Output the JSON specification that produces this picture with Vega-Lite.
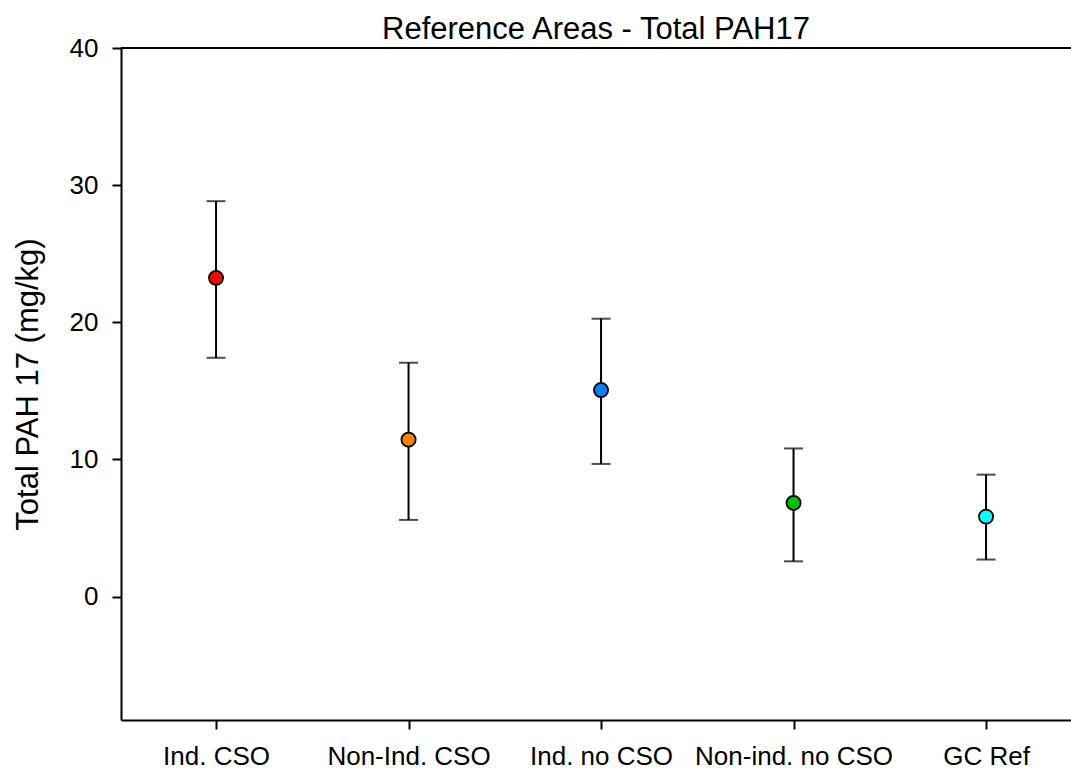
{
  "$schema": "https://vega.github.io/schema/vega-lite/v6.json",
  "width": 950,
  "height": 672,
  "autosize": {"type": "none"},
  "padding": {"left": 121, "top": 48, "right": 0, "bottom": 49},
  "background": "white",
  "title": {
    "text": "Reference Areas - Total PAH17",
    "fontSize": 31,
    "font": "Liberation Sans",
    "fontWeight": "normal",
    "color": "black",
    "anchor": "middle",
    "baseline": "alphabetic",
    "offset": -35
  },
  "data": {
    "values": [
      {"group": "Ind. CSO", "mean": 23.24, "lo": 17.41, "hi": 28.83},
      {"group": "Non-Ind. CSO", "mean": 11.44, "lo": 5.59, "hi": 17.05},
      {"group": "Ind. no CSO", "mean": 15.06, "lo": 9.67, "hi": 20.26},
      {"group": "Non-ind. no CSO", "mean": 6.83, "lo": 2.57, "hi": 10.8},
      {"group": "GC Ref", "mean": 5.83, "lo": 2.7, "hi": 8.89}
    ]
  },
  "layer": [
    {
      "mark": {"type": "rule", "color": "black", "strokeWidth": 2},
      "encoding": {"y": {"datum": 40, "type": "quantitative"}}
    },
    {
      "mark": {"type": "rule", "color": "black", "strokeWidth": 2},
      "encoding": {
        "x": {"field": "group", "type": "nominal", "sort": ["Ind. CSO", "Non-Ind. CSO", "Ind. no CSO", "Non-ind. no CSO", "GC Ref"]},
        "y": {"field": "lo", "type": "quantitative"},
        "y2": {"field": "hi"}
      }
    },
    {
      "mark": {"type": "tick", "color": "black", "thickness": 2, "size": 19, "orient": "horizontal"},
      "encoding": {
        "x": {"field": "group", "type": "nominal", "sort": ["Ind. CSO", "Non-Ind. CSO", "Ind. no CSO", "Non-ind. no CSO", "GC Ref"]},
        "y": {"field": "lo", "type": "quantitative"}
      }
    },
    {
      "mark": {"type": "tick", "color": "black", "thickness": 2, "size": 19, "orient": "horizontal"},
      "encoding": {
        "x": {"field": "group", "type": "nominal", "sort": ["Ind. CSO", "Non-Ind. CSO", "Ind. no CSO", "Non-ind. no CSO", "GC Ref"]},
        "y": {"field": "hi", "type": "quantitative"}
      }
    },
    {
      "mark": {"type": "point", "shape": "circle", "filled": true, "size": 200, "stroke": "black", "strokeWidth": 1.8, "opacity": 1},
      "encoding": {
        "x": {
          "field": "group",
          "type": "nominal",
          "sort": ["Ind. CSO", "Non-Ind. CSO", "Ind. no CSO", "Non-ind. no CSO", "GC Ref"],
          "scale": {"type": "point", "padding": 0.4675, "align": 0.528},
          "axis": {
            "title": null,
            "labelAngle": 0,
            "labelAlign": "center",
            "labelBaseline": "top",
            "labelFont": "Liberation Sans",
            "labelFontSize": 26,
            "labelColor": "black",
            "labelPadding": 14,
            "labelLimit": 400,
            "labelOverlap": false,
            "tickSize": 9,
            "tickWidth": 2,
            "tickColor": "black",
            "domainColor": "black",
            "domainWidth": 2,
            "grid": false
          }
        },
        "y": {
          "field": "mean",
          "type": "quantitative",
          "scale": {"domain": [-9, 40], "nice": false, "zero": false},
          "axis": {
            "title": "Total PAH 17 (mg/kg)",
            "values": [0, 10, 20, 30, 40],
            "labelFont": "Liberation Sans",
            "labelFontSize": 26,
            "labelColor": "black",
            "labelPadding": 14,
            "tickSize": 9,
            "tickWidth": 2,
            "tickColor": "black",
            "domainColor": "black",
            "domainWidth": 2,
            "grid": false,
            "titleFont": "Liberation Sans",
            "titleFontSize": 31,
            "titleFontWeight": "normal",
            "titleColor": "black",
            "titlePadding": 25
          }
        },
        "color": {
          "field": "group",
          "type": "nominal",
          "scale": {
            "domain": ["Ind. CSO", "Non-Ind. CSO", "Ind. no CSO", "Non-ind. no CSO", "GC Ref"],
            "range": ["#ff0000", "#ff8000", "#0080ff", "#00c000", "#00ffff"]
          },
          "legend": null
        }
      }
    }
  ],
  "config": {
    "view": {"stroke": null},
    "font": "Liberation Sans"
  }
}
